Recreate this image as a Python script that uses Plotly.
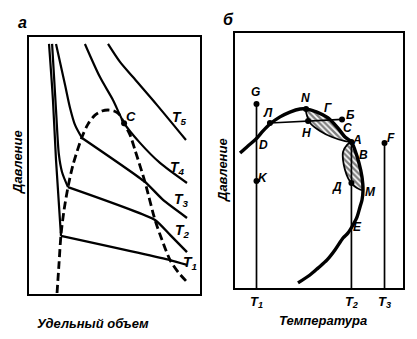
import plotly.graph_objects as go

# ---------------- Panel "а": P–V diagram (arbitrary units 0..100) ----------------
T1_liq_v = [11.7, 14.0, 15.8, 18.7]
T1_liq_p = [97.3, 75.5, 52.1, 22.6]
T1_gas_v = [18.7, 82.5, 92.4]
T1_gas_p = [22.6, 13.2, 11.3]

T2_liq_v = [13.5, 15.8, 17.5, 19.3, 22.8]
T2_liq_p = [97.3, 71.6, 54.1, 47.5, 41.6]
T2_gas_v = [22.8, 73.7, 82.5, 92.4]
T2_gas_p = [41.6, 28.8, 23.0, 16.3]

T3_liq_v = [15.8, 21.1, 24.0, 26.9, 31.0]
T3_liq_p = [97.3, 81.3, 72.4, 65.8, 60.7]
T3_gas_v = [31.0, 67.8, 78.4, 92.4]
T3_gas_p = [60.7, 43.6, 36.6, 29.6]

T4_v = [32.7, 41.5, 49.1, 55.6, 64.9, 76.6, 92.4]
T4_p = [97.3, 84.4, 75.5, 66.5, 58.8, 51.0, 43.2]

T5_v = [46.2, 53.2, 60.8, 74.9, 91.8]
T5_p = [97.3, 90.3, 84.4, 73.5, 59.9]

binodal_v = [16.4, 17.5, 18.7, 20.5, 22.8, 25.7, 31.0, 34.5, 38.6, 42.7, 46.2,
             49.7, 52.6, 55.6, 59.1, 62.0, 67.8, 73.7, 77.8, 82.5, 87.1, 92.4]
binodal_p = [0.4, 11.3, 23.0, 32.7, 41.6, 50.2, 61.1, 66.1, 69.6, 71.2, 71.6,
             71.2, 70.0, 66.3, 61.9, 56.0, 43.6, 28.8, 21.0, 13.2, 8.6, 4.7]

crit_v, crit_p = 55.6, 66.4

iso_labels = ["T<sub>5</sub>", "T<sub>4</sub>", "T<sub>3</sub>", "T<sub>2</sub>", "T<sub>1</sub>"]
iso_label_v = [88.3, 87.1, 88.9, 89.5, 94.2]
iso_label_p = [68.5, 49.0, 36.6, 24.5, 12.1]

# ---------------- Panel "б": P–T diagram (arbitrary units 0..100) ----------------
env_T = [3.0, 7.7, 12.5, 16.7, 20.8, 26.8, 32.7, 38.7, 42.3, 48.8, 55.4, 61.3, 65.5,
         69.3, 71.4, 73.8, 75.6, 76.2, 75.6, 74.4, 72.6, 70.2, 67.3, 64.3, 59.5,
         54.8, 49.4, 44.6, 37.5]
env_P = [52.9, 55.7, 58.4, 61.6, 64.3, 67.1, 69.0, 70.2, 70.2, 69.0, 66.7, 62.7, 59.2,
         57.3, 54.1, 49.0, 43.5, 38.4, 34.5, 31.8, 27.8, 24.7, 21.6, 19.6, 14.9,
         11.0, 7.8, 5.1, 2.0]

upper_lens_T = [42.3, 48.8, 55.4, 61.3, 65.5, 69.3, 65.5, 57.7, 50.6, 45.2, 42.9, 42.3]
upper_lens_P = [70.2, 69.0, 66.7, 62.7, 59.2, 57.3, 57.6, 59.2, 61.6, 64.3, 67.5, 70.2]

lower_lens_T = [69.3, 71.4, 73.8, 75.6, 76.2, 72.6, 69.6, 67.3, 65.5, 64.3, 64.3, 66.7, 69.3]
lower_lens_P = [57.3, 54.1, 49.0, 43.5, 38.4, 39.2, 40.8, 43.1, 46.3, 50.2, 53.3, 56.1, 57.3]

isobar_T = [20.8, 63.7]
isobar_P = [64.7, 66.1]

temps_T = [12.8, 69.3, 89.0]          # T1, T2, T3
temps_top_P = [72.2, 57.3, 56.9]      # G, A, F
temp_labels = ["<b><i>T<sub>1</sub></i></b>", "<b><i>T<sub>2</sub></i></b>",
               "<b><i>T<sub>3</sub></i></b>"]

dot_names = ["G", "K", "Л", "N", "H", "Б", "A", "Д", "F"]
dot_T = [12.8, 12.8, 20.8, 42.3, 43.5, 63.7, 69.3, 69.3, 89.0]
dot_P = [72.2, 42.0, 64.7, 70.2, 65.5, 66.1, 57.3, 41.2, 56.9]

lbl_names = ["G", "N", "Л", "H", "Г", "Б", "C", "A", "B", "D", "K", "Д", "M", "E", "F"]
lbl_T = [12.0, 41.7, 19.6, 42.3, 55.4, 68.5, 66.7, 72.8, 76.4, 16.9, 16.9, 60.7, 80.4, 72.8, 93.0]
lbl_P = [76.9, 74.5, 68.6, 60.8, 70.6, 67.8, 62.7, 58.0, 52.2, 56.1, 43.1, 39.6, 37.6, 23.9, 58.8]

# ---------------- figure ----------------
fig = go.Figure()
K = "black"

def line(x, y, xa, ya, w=2.0, shape="spline", dash="solid", smoothing=0.8):
    fig.add_trace(go.Scatter(x=x, y=y, xaxis=xa, yaxis=ya, mode="lines",
                             line=dict(color=K, width=w, shape=shape, dash=dash,
                                       smoothing=smoothing if shape == "spline" else None),
                             hoverinfo="skip", showlegend=False))

# panel a isotherms
for lv, lp, gv, gp in [(T1_liq_v, T1_liq_p, T1_gas_v, T1_gas_p),
                       (T2_liq_v, T2_liq_p, T2_gas_v, T2_gas_p),
                       (T3_liq_v, T3_liq_p, T3_gas_v, T3_gas_p)]:
    line(lv, lp, "x", "y", 2.2)
    line(gv, gp, "x", "y", 2.4, smoothing=0.5)
line(T4_v, T4_p, "x", "y", 2.2)
line(T5_v, T5_p, "x", "y", 2.2)
line(binodal_v, binodal_p, "x", "y", 2.8, dash="8px,4px")
fig.add_trace(go.Scatter(x=[crit_v], y=[crit_p], xaxis="x", yaxis="y", mode="markers",
                         marker=dict(color=K, size=6), hoverinfo="skip", showlegend=False))

# panel b hatched lenses
for lt, lp in [(upper_lens_T, upper_lens_P), (lower_lens_T, lower_lens_P)]:
    fig.add_trace(go.Scatter(x=lt, y=lp, xaxis="x2", yaxis="y2", mode="lines",
                             fill="toself", fillcolor="rgba(255,255,255,0)",
                             fillpattern=dict(shape="\\", fgcolor=K, bgcolor="white",
                                              size=4, solidity=0.6),
                             line=dict(color=K, width=1.8, shape="spline", smoothing=0.8),
                             hoverinfo="skip", showlegend=False))
# envelope
line(env_T, env_P, "x2", "y2", 3.4)
# isobar
line(isobar_T, isobar_P, "x2", "y2", 1.7, shape="linear")
# isotherm verticals
for t, ptop in zip(temps_T, temps_top_P):
    line([t, t], [0, ptop], "x2", "y2", 1.7, shape="linear")
fig.add_trace(go.Scatter(x=dot_T, y=dot_P, xaxis="x2", yaxis="y2", mode="markers",
                         marker=dict(color=K, size=6), hoverinfo="skip", showlegend=False))

# ---------------- annotations ----------------
def bi(s):
    return "<b><i>" + s + "</i></b>"

ann = []
FAM = "Liberation Sans"
lab_font = dict(family=FAM, size=14, color=K)
for t, x, y in zip(iso_labels, iso_label_v, iso_label_p):
    ann.append(dict(text=bi(t), x=x, y=y, xref="x", yref="y", showarrow=False,
                    xanchor="center", yanchor="middle", font=lab_font))
ann.append(dict(text=bi("C"), x=59.6, y=68.9, xref="x", yref="y", showarrow=False,
                xanchor="center", yanchor="middle", font=dict(family=FAM, size=13, color=K)))
pt_font = dict(family=FAM, size=12, color=K)
for t, x, y in zip(lbl_names, lbl_T, lbl_P):
    ann.append(dict(text=bi(t), x=x, y=y, xref="x2", yref="y2", showarrow=False,
                    xanchor="center", yanchor="middle", font=pt_font))

big = dict(family=FAM, size=16, color=K)
ttl = dict(family=FAM, size=13, color=K)
paper_txt = [("а", 22, 22, 0, big), ("б", 228, 19, 0, big),
             ("Давление", 17, 162, -90, ttl), ("Давление", 222, 170, -90, ttl),
             ("Удельный объем", 93, 323, 0, ttl), ("Температура", 323, 320, 0, ttl)]
for t, px, py, ang, f in paper_txt:
    ann.append(dict(text=bi(t), x=px / 417, y=1 - py / 339, xref="paper", yref="paper",
                    xanchor="center", yanchor="middle", textangle=ang,
                    showarrow=False, font=f))

frame = dict(showline=True, mirror=True, linecolor=K, linewidth=2, showgrid=False,
             zeroline=False, ticks="", fixedrange=True)
fig.update_layout(
    width=417, height=339, autosize=False,
    margin=dict(l=0, r=0, t=0, b=0),
    paper_bgcolor="white", plot_bgcolor="white",
    xaxis=dict(domain=[29 / 417, 200 / 417], range=[0, 100], showticklabels=False, **frame),
    yaxis=dict(domain=[1 - 294 / 339, 1 - 37 / 339], range=[0, 100], showticklabels=False, **frame),
    xaxis2=dict(domain=[235 / 417, 403 / 417], range=[0, 100], anchor="y2",
                tickmode="array", tickvals=temps_T, ticktext=temp_labels,
                tickfont=dict(family=FAM, size=13, color=K),
                **frame),
    yaxis2=dict(domain=[1 - 288 / 339, 1 - 33 / 339], range=[0, 100], anchor="x2",
                showticklabels=False, **frame),
    annotations=ann,
    showlegend=False,
)

fig.write_html("out.html")
